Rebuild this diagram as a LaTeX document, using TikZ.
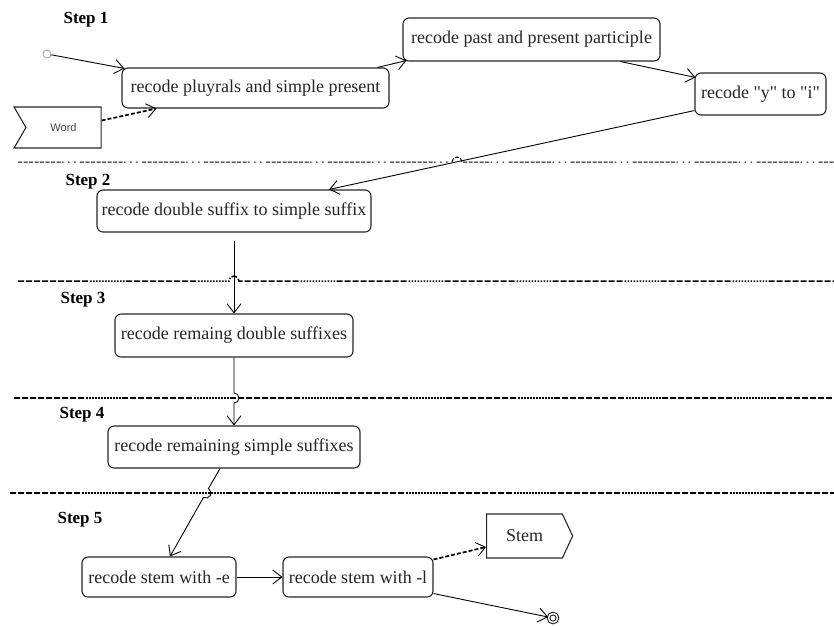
\documentclass[tikz,border=0pt]{standalone}
\usepackage{fontspec}
\setmainfont{Liberation Serif}[Ligatures=TeXOff]
\newfontfamily\wordfont{Liberation Sans}
\usetikzlibrary{arrows.meta,shapes.symbols,calc}
\begin{document}
\begin{tikzpicture}[x=1pt,y=1pt,
    activity/.style={draw=black!85,line width=1.1pt,rounded corners=6pt,fill=white,
      inner sep=0pt,text=black!85,font=\fontsize{18}{20}\selectfont},
    steplabel/.style={font=\bfseries\fontsize{17}{19}\selectfont},
    flow/.style={line width=0.9pt,-{Straight Barb[length=9pt,width=14pt,line width=0.9pt]}},
    dataflow/.style={flow,line width=1.7pt,dash pattern=on 4pt off 2pt},
    thinlane/.style={line width=1pt,dash pattern=on 4pt off 1.5pt on 4pt off 1.5pt on 4pt off 1.5pt
      on 4pt off 1.5pt on 4pt off 1.5pt on 4pt off 1.5pt on 4pt off 1.5pt on 4pt off 1.5pt
      on 1.5pt off 4.5pt on 1.5pt off 4.5pt on 1.5pt off 4.5pt},
    lane/.style={line width=1.5pt,dash pattern=on 6pt off 2pt on 6pt off 2pt on 6pt off 2pt
      on 6pt off 2pt on 6pt off 2pt on 6pt off 2pt on 6pt off 2pt on 6pt off 2pt on 6pt off 2pt
      on 1.5pt off 1.5pt on 1.5pt off 1.5pt on 1.5pt off 1.5pt on 1.5pt off 1.5pt on 1.5pt off 1.5pt
      on 1.5pt off 1.5pt on 1.5pt off 1.5pt on 1.5pt off 1.5pt on 1.5pt off 1.5pt on 1.5pt off 1.5pt
      on 1.5pt off 1.5pt on 1.5pt off 1.5pt}]
      \useasboundingbox (0,0) rectangle (834,-625);
      \draw[thinlane] (18,-162) -- (452,-162) arc (180:0:5) -- (834,-162);
      \draw[lane] (18,-281) -- (229,-281) arc (180:0:5) -- (834,-281);
      \draw[lane] (14,-398) -- (834,-398);
      \draw[lane] (10,-493) -- (834,-493);
      \coordinate (hopE) at (234,-398);
      \coordinate (hopF) at (205.96,-493);
      \node[steplabel] (s1) at (86,-20) {Step 1};
      \node[steplabel] (s2) at (88,-182) {Step 2};
      \node[steplabel] (s3) at (83,-300) {Step 3};
      \node[steplabel] (s4) at (82,-415) {Step 4};
      \node[steplabel] (s5) at (80,-520) {Step 5};
      \node[circle,draw=black!40,fill=white,line width=0.8pt,minimum size=8pt,inner sep=0pt] (start) at (47,-54) {};
      \node[draw=black!85,line width=1.1pt,signal,signal from=west,signal to=nowhere,signal pointer angle=120,
        minimum width=87pt,minimum height=41pt,text=black!75,font=\wordfont\fontsize{11}{13}\selectfont] (word) at (63.5,-127.5) {Word};
      \node[activity,minimum width=267pt,minimum height=40pt] (plural) at (255.5,-88) {recode pluyrals and simple present};
      \node[activity,minimum width=257pt,minimum height=43pt] (particip) at (531.5,-39.5) {recode past and present participle};
      \node[activity,minimum width=131pt,minimum height=42pt] (yi) at (760.5,-94) {recode "y" to "i"};
      \node[activity,minimum width=274pt,minimum height=42pt] (double) at (234,-211) {recode double suffix to simple suffix};
      \node[activity,minimum width=238pt,minimum height=43pt] (remdouble) at (234,-335.5) {recode remaing double suffixes};
      \node[activity,minimum width=252pt,minimum height=42pt] (remsimple) at (234,-447) {recode remaining simple suffixes};
      \node[activity,minimum width=154pt,minimum height=40pt] (stemE) at (159,-577) {recode stem with -e};
      \node[activity,minimum width=150pt,minimum height=40pt] (stemL) at (358,-577) {recode stem with -l};
      \node[draw=black!85,line width=1.1pt,signal,signal to=east,signal pointer angle=130,
        minimum width=86pt,minimum height=44pt,text=black!85,font=\fontsize{18}{20}\selectfont] (stem) at (524.5,-536) {Stem};
      \node[circle,draw,line width=0.9pt,double,double distance=1.6pt,minimum size=9pt,inner sep=0pt] (stop) at (553,-618) {};
      \begin{scope}[flow]
        \draw (start) -- ([xshift=3pt,yshift=-1pt]plural.north west);
        \draw[dataflow] ([yshift=7pt]word.east) -- ([xshift=35pt]plural.south west);
        \draw ([xshift=-12pt]plural.north east) -- ([xshift=4pt,yshift=1pt]particip.south west);
        \draw ([xshift=-40pt]particip.south east) -- ([xshift=1pt,yshift=-5pt]yi.north west);
        \draw ([yshift=5pt]yi.south west) -- ([xshift=95pt]double.north);
        \draw ([yshift=-8pt]double.south) -- (remdouble.north);
        \draw (remdouble.south) -- ([yshift=5pt]hopE) arc (90:-90:5) -- (remsimple.north);
        \draw ([xshift=-14pt]remsimple.south) -- ($(hopF)+(60.67:5)$) arc (60.67:-119.33:5) -- ([xshift=11pt]stemE.north);
        \draw (stemE) -- (stemL);
        \draw[dataflow] ([yshift=-3pt]stemL.north east) -- ([yshift=-11pt]stem.west);
        \draw ([yshift=4pt]stemL.south east) -- (stop);
      \end{scope}
    \end{tikzpicture}
\end{document}
